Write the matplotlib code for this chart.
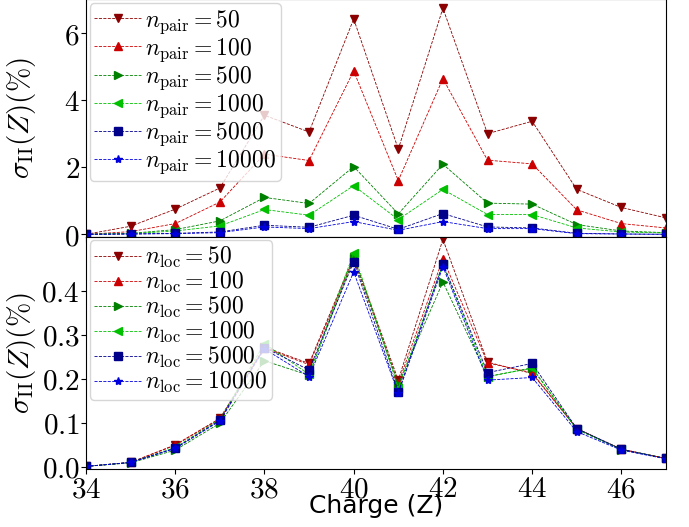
import matplotlib
matplotlib.use('Agg')
import matplotlib.pyplot as plt
from matplotlib.ticker import FuncFormatter

plt.rcParams['mathtext.fontset'] = 'cm'

Z = [34, 35, 36, 37, 38, 39, 40, 41, 42, 43, 44, 45, 46, 47]

# top panel: n_pair
pair_labels = ['50', '100', '500', '1000', '5000', '10000']
pair_50 = [0.0, 0.24, 0.75, 1.38, 3.55, 3.05, 6.42, 2.54, 6.74, 3.0, 3.37, 1.34, 0.80, 0.49]
pair_100 = [0.0, 0.08, 0.32, 0.96, 2.39, 2.2, 4.87, 1.6, 4.64, 2.21, 2.1, 0.73, 0.32, 0.19]
pair_500 = [0.0, 0.03, 0.14, 0.40, 1.10, 0.92, 2.02, 0.61, 2.09, 0.93, 0.90, 0.29, 0.10, 0.05]
pair_1000 = [0.0, 0.02, 0.10, 0.25, 0.74, 0.57, 1.45, 0.44, 1.34, 0.59, 0.59, 0.19, 0.07, 0.04]
pair_5000 = [0.0, 0.01, 0.03, 0.07, 0.27, 0.21, 0.57, 0.15, 0.62, 0.22, 0.19, 0.03, 0.01, 0.0]
pair_10000 = [0.0, 0.01, 0.02, 0.05, 0.22, 0.17, 0.38, 0.12, 0.38, 0.17, 0.17, 0.02, 0.01, 0.0]

# bottom panel: n_loc
loc_labels = ['50', '100', '500', '1000', '5000', '10000']
loc_50 = [0.001, 0.010, 0.050, 0.110, 0.272, 0.235, 0.477, 0.197, 0.517, 0.238, 0.212, 0.087, 0.040, 0.019]
loc_100 = [0.001, 0.010, 0.049, 0.109, 0.270, 0.232, 0.471, 0.190, 0.473, 0.236, 0.214, 0.087, 0.040, 0.019]
loc_500 = [0.001, 0.009, 0.038, 0.099, 0.241, 0.208, 0.475, 0.188, 0.420, 0.205, 0.225, 0.085, 0.039, 0.019]
loc_1000 = [0.001, 0.010, 0.044, 0.108, 0.280, 0.210, 0.486, 0.180, 0.460, 0.205, 0.224, 0.086, 0.040, 0.019]
loc_5000 = [0.001, 0.010, 0.042, 0.106, 0.271, 0.220, 0.466, 0.170, 0.462, 0.214, 0.235, 0.087, 0.040, 0.019]
loc_10000 = [0.001, 0.010, 0.042, 0.104, 0.268, 0.205, 0.443, 0.167, 0.455, 0.197, 0.203, 0.080, 0.038, 0.018]

colors = ['darkred', '#cc0000', 'green', '#00c000', 'darkblue', '#0000dd']
markers = ['v', '^', '>', '<', 's', '*']

fig = plt.figure(figsize=(6.89, 5.27), dpi=100)
ax1 = fig.add_axes([0.1248, 0.5509, 0.8418, 0.4501])
ax2 = fig.add_axes([0.1248, 0.110, 0.8418, 0.4409])

pair_data = [pair_50, pair_100, pair_500, pair_1000, pair_5000, pair_10000]
for vals, lab, c, m in zip(pair_data, pair_labels, colors, markers):
    ax1.plot(Z, vals, linestyle='--', linewidth=0.6, color=c, marker=m,
             markersize=6, label=r'$n_{\rm pair} = %s$' % lab)

loc_data = [loc_50, loc_100, loc_500, loc_1000, loc_5000, loc_10000]
for vals, lab, c, m in zip(loc_data, loc_labels, colors, markers):
    ax2.plot(Z, vals, linestyle='--', linewidth=0.6, color=c, marker=m,
             markersize=6, label=r'$n_{\rm loc} = %s$' % lab)

for ax in (ax1, ax2):
    ax.set_xlim(34, 47)
    ax.set_xticks([34, 36, 38, 40, 42, 44, 46])
    ax.tick_params(labelsize=21, pad=1)
    ax.set_ylabel(r'$\sigma_{\rm II}(Z) (\%)$', fontsize=21)
    ax.yaxis.set_label_coords(-0.082, 0.5)
    ax.legend(loc='upper left', fontsize=17, borderaxespad=0.15,
              handletextpad=0.15, labelspacing=0.0, borderpad=0.2,
              handlelength=2.0)

ax1.set_ylim(-0.07, 7.0)
ax1.set_yticks([0, 2, 4, 6])
ax1.tick_params(labelbottom=False)
ax1.yaxis.set_major_formatter(FuncFormatter(lambda v, p: '$%d$' % v))

ax2.set_ylim(-0.005, 0.523)
ax2.set_yticks([0.0, 0.1, 0.2, 0.3, 0.4])
ax2.yaxis.set_major_formatter(FuncFormatter(lambda v, p: '$%.1f$' % v))
ax2.xaxis.set_major_formatter(FuncFormatter(lambda v, p: '$%d$' % v))
ax2.set_xlabel('Charge (Z)', fontsize=18, labelpad=-7)

fig.savefig('out.png', dpi=100)
